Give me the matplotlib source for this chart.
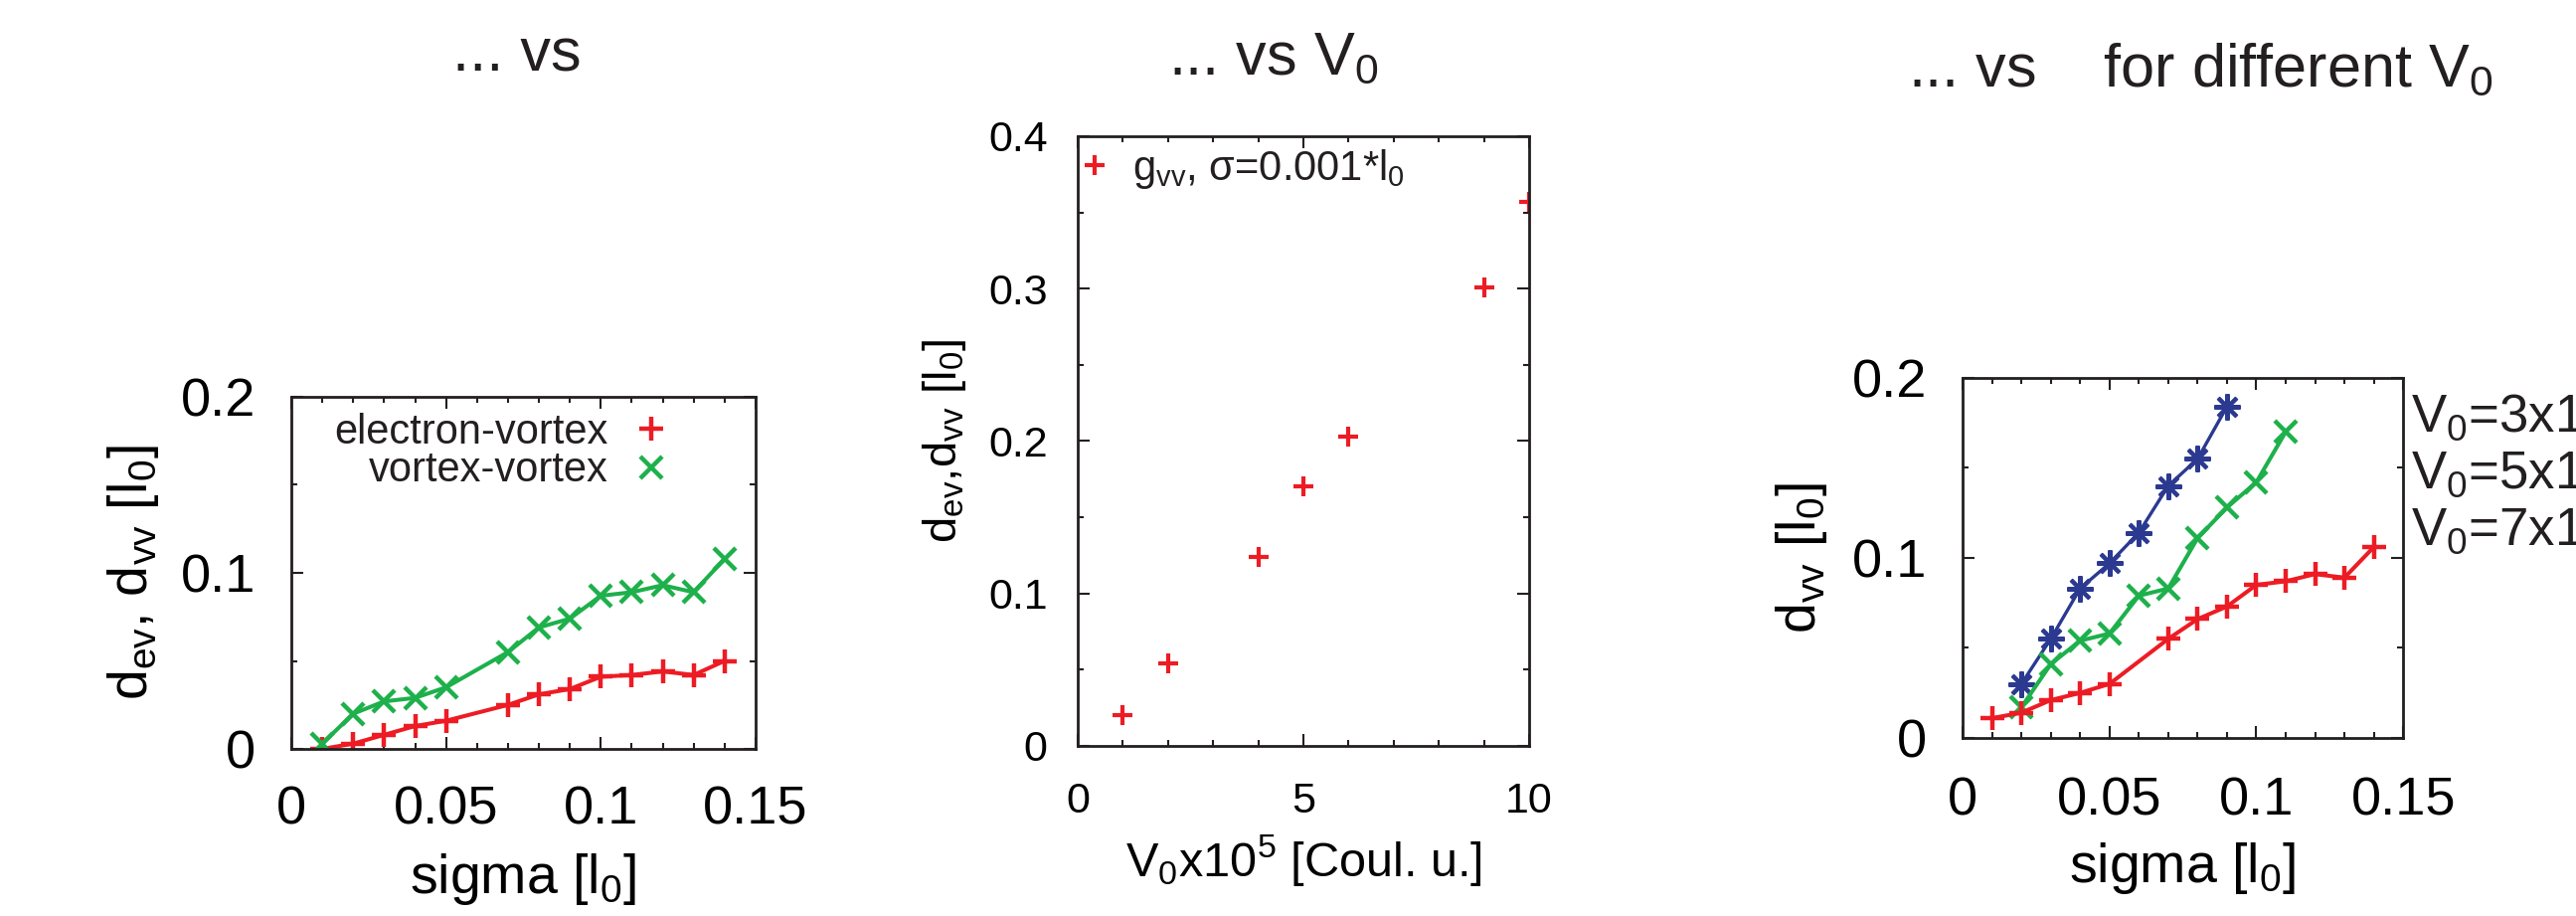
import matplotlib
matplotlib.use("Agg")
import matplotlib.pyplot as plt
from matplotlib.lines import Line2D
from matplotlib.ticker import MultipleLocator, FormatStrFormatter

# --- separation vs sigma (left panel) ---
sigma_a = [0.01, 0.02, 0.03, 0.04, 0.05, 0.07, 0.08, 0.09, 0.10, 0.11, 0.12, 0.13, 0.14]
d_ev = [0.000, 0.003, 0.008, 0.013, 0.016, 0.025, 0.031, 0.034, 0.041, 0.042, 0.044, 0.042, 0.050]
d_vv = [0.003, 0.020, 0.027, 0.029, 0.035, 0.055, 0.069, 0.074, 0.087, 0.089, 0.093, 0.089, 0.108]

# --- separation vs V0 (middle panel) ---
v0 = [1, 2, 4, 5, 6, 9, 10]
g_vv = [0.020, 0.054, 0.124, 0.170, 0.203, 0.301, 0.357]

# --- d_vv vs sigma for three V0 (right panel) ---
sigma_v3 = [0.02, 0.03, 0.04, 0.05, 0.06, 0.07, 0.08, 0.09]
dvv_v3 = [0.030, 0.055, 0.083, 0.097, 0.114, 0.140, 0.155, 0.184]
sigma_v5 = [0.02, 0.03, 0.04, 0.05, 0.06, 0.07, 0.08, 0.09, 0.10, 0.11]
dvv_v5 = [0.017, 0.041, 0.054, 0.058, 0.079, 0.083, 0.111, 0.128, 0.142, 0.170]
sigma_v7 = [0.01, 0.02, 0.03, 0.04, 0.05, 0.07, 0.08, 0.09, 0.10, 0.11, 0.12, 0.13, 0.14]
dvv_v7 = [0.011, 0.014, 0.021, 0.025, 0.030, 0.055, 0.066, 0.073, 0.085, 0.087, 0.091, 0.089, 0.106]
v0_labels = [r"V$_{\mathrm{0}}$=3x10$^{\mathrm{-5}}$",
             r"V$_{\mathrm{0}}$=5x10$^{\mathrm{-5}}$",
             r"V$_{\mathrm{0}}$=7x10$^{\mathrm{-5}}$"]

RED = "#ED1C24"; GREEN = "#1DB04B"; BLUE = "#2B3990"; INK = "#231F20"

plt.rcParams.update({
    "font.family": "Liberation Sans",
    "mathtext.fontset": "custom",
    "mathtext.rm": "Liberation Sans",
    "text.color": INK,
    "axes.edgecolor": INK,
    "axes.linewidth": 2.0,
})

fig = plt.figure(figsize=(25.91, 9.21), dpi=100)
ax1 = fig.add_axes([0.1131, 0.1824, 0.1802, 0.3844])
ax2 = fig.add_axes([0.4184, 0.1857, 0.1752, 0.6656])
ax3 = fig.add_axes([0.7619, 0.1944, 0.1710, 0.3931])


def style(ax, xmaj, xmin, ymaj, ymin, fs, xpad, ypad):
    ax.xaxis.set_major_locator(MultipleLocator(xmaj))
    ax.xaxis.set_minor_locator(MultipleLocator(xmin))
    ax.yaxis.set_major_locator(MultipleLocator(ymaj))
    ax.yaxis.set_minor_locator(MultipleLocator(ymin))
    ax.xaxis.set_major_formatter(FormatStrFormatter("%g"))
    ax.yaxis.set_major_formatter(FormatStrFormatter("%g"))
    ax.tick_params(which="both", direction="in", top=True, right=True, color=INK, width=1.5,
                   labelsize=fs)
    ax.tick_params(which="major", length=8.5)
    ax.tick_params(which="minor", length=4.3)
    ax.tick_params(axis="x", which="both", pad=xpad)
    ax.tick_params(axis="y", which="both", pad=ypad)


# gnuplot-like point styles
PLUS = dict(marker="+", ms=17, mew=3.2)
CROSS = dict(marker="x", ms=16, mew=3.2)
STAR = dict(marker=(8, 2, 0), ms=19, mew=2.9)

# left panel
ax1.plot(sigma_a, d_ev, color=RED, lw=2.9, **PLUS)
ax1.plot(sigma_a, d_vv, color=GREEN, lw=2.9, **CROSS)
ax1.set_xlim(0, 0.15); ax1.set_ylim(0, 0.2)
style(ax1, 0.05, 0.01, 0.1, 0.05, 39, 26, 26)
ax1.set_xlabel(r"sigma [l$_{\mathrm{0}}$]", fontsize=40, labelpad=12)
ax1.set_ylabel(r"d$_{\mathrm{ev}}$, d$_{\mathrm{vv}}$ [l$_{\mathrm{0}}$]", fontsize=40, labelpad=14)
h1 = [Line2D([], [], color=RED, ls="none", **PLUS),
      Line2D([], [], color=GREEN, ls="none", **CROSS)]
ax1.legend(h1, ["electron-vortex", "vortex-vortex"], loc="upper right", bbox_to_anchor=(0.820, 0.955),
           markerfirst=False, frameon=False, borderpad=0, borderaxespad=0, handlelength=1.0,
           handletextpad=0.55, labelspacing=-0.04, fontsize=30)

# middle panel
ax2.plot(v0, g_vv, color=RED, ls="none", marker="+", ms=15, mew=3.0)
ax2.set_xlim(0, 10); ax2.set_ylim(0, 0.4)
style(ax2, 5, 1, 0.1, 0.05, 31, 26, 22)
ax2.set_xlabel(r"V$_{\mathrm{0}}$x10$^{\mathrm{5}}$ [Coul. u.]", fontsize=35, labelpad=8)
ax2.set_ylabel(r"d$_{\mathrm{ev}}$,d$_{\mathrm{vv}}$ [l$_{\mathrm{0}}$]", fontsize=34, labelpad=14)
h2 = [Line2D([], [], color=RED, marker="+", ls="none", ms=15, mew=3.0)]
ax2.legend(h2, [r"g$_{\mathrm{vv}}$, σ=0.001*l$_{\mathrm{0}}$"], loc="upper left",
           bbox_to_anchor=(0.009, 0.982), frameon=False, borderpad=0, borderaxespad=0,
           handlelength=0.6, handletextpad=0.62, fontsize=30)

# right panel
ax3.plot(sigma_v3, dvv_v3, color=BLUE, lw=2.4, **STAR)
ax3.plot(sigma_v5, dvv_v5, color=GREEN, lw=2.9, **CROSS)
ax3.plot(sigma_v7, dvv_v7, color=RED, lw=2.9, **PLUS)
ax3.set_xlim(0, 0.15); ax3.set_ylim(0, 0.2)
style(ax3, 0.05, 0.01, 0.1, 0.05, 39, 28, 26)
ax3.set_xlabel(r"sigma [l$_{\mathrm{0}}$]", fontsize=40, labelpad=10)
ax3.set_ylabel(r"d$_{\mathrm{vv}}$ [l$_{\mathrm{0}}$]", fontsize=40, labelpad=16)
h3 = [Line2D([], [], color=BLUE, ls="none", **STAR),
      Line2D([], [], color=GREEN, ls="none", **CROSS),
      Line2D([], [], color=RED, ls="none", **PLUS)]
ax3.legend(h3, v0_labels, loc="upper left", bbox_to_anchor=(1.018, 0.98), markerfirst=False,
           frameon=False, borderpad=0, borderaxespad=0, handlelength=1.0, handletextpad=0.4,
           labelspacing=-0.03, fontsize=38)

# panel headings
fig.text(520 / 2591, 1 - 72 / 921, "... vs", fontsize=44, ha="center", va="baseline")
fig.text(1175 / 2591, 1 - 75 / 921, r"... vs V$_{\mathrm{0}}$", fontsize=44, ha="left", va="baseline")
fig.text(1919 / 2591, 1 - 87 / 921, r"... vs    for different V$_{\mathrm{0}}$", fontsize=44,
         ha="left", va="baseline")

fig.savefig("out.png", dpi=100, facecolor="white")
